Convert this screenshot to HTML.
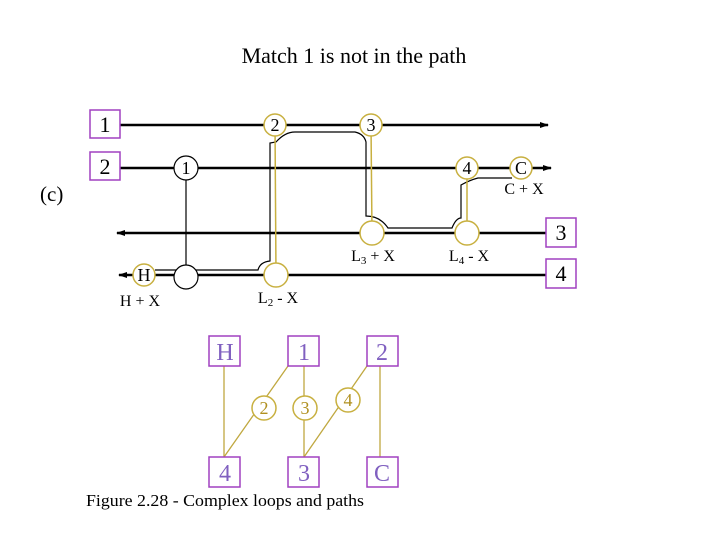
<!DOCTYPE html>
<html><head><style>body{margin:0;background:#fff}svg{display:block}</style></head><body>
<svg width="720" height="540" xmlns="http://www.w3.org/2000/svg" font-family="Liberation Serif, serif">
<defs><marker id="a" markerUnits="userSpaceOnUse" markerWidth="9" markerHeight="7" refX="8" refY="3.5" orient="auto"><path d="M0,0.5L9,3.5L0,6.5z" fill="#000"/></marker></defs>
<text x="354" y="63" font-size="22" text-anchor="middle">Match 1 is not in the path</text>
<text x="40" y="201" font-size="21">(c)</text>
<g stroke="#000" stroke-width="2.5" fill="none">
<line x1="120" y1="125" x2="548" y2="125" marker-end="url(#a)"/>
<line x1="120" y1="168" x2="551" y2="168" marker-end="url(#a)"/>
<line x1="546" y1="233" x2="117" y2="233" marker-end="url(#a)"/>
<line x1="546" y1="275" x2="119" y2="275" marker-end="url(#a)"/>
</g>
<g stroke="#000" stroke-width="1.2" fill="none">
<line x1="186" y1="168" x2="186" y2="277"/>
<path d="M155,270 L258,270 Q260,262 270,261 L270,143 L276,142 Q285,132 295,132 L355,132 Q364,134 366,142 L366,216 Q380,216 388,228 L452,228 Q456,218 461,218 L461,185 Q470,180 478,178 L512,178"/>
</g>
<g stroke="#c8b040" stroke-width="1.5">
<line x1="275" y1="125" x2="276" y2="275"/>
<line x1="371" y1="125" x2="372" y2="233"/>
<line x1="467" y1="168" x2="467" y2="233"/>
</g>
<g fill="#fff" stroke="#c8b040" stroke-width="1.5">
<circle cx="275" cy="125" r="11"/><circle cx="371" cy="125" r="11"/>
<circle cx="467" cy="168" r="11"/><circle cx="521" cy="168" r="11"/>
<circle cx="372" cy="233" r="12"/><circle cx="467" cy="233" r="12"/>
<circle cx="144" cy="275" r="11"/><circle cx="276" cy="275" r="12"/>
</g>
<g fill="#fff" stroke="#000" stroke-width="1.2">
<circle cx="186" cy="168" r="12"/><circle cx="186" cy="277" r="12"/>
</g>
<g font-size="18" text-anchor="middle">
<text x="275" y="131">2</text><text x="371" y="131">3</text><text x="467" y="174">4</text>
<text x="521" y="174">C</text><text x="186" y="174">1</text><text x="144" y="281">H</text>
</g>
<g font-size="16" text-anchor="middle">
<text x="524" y="194">C + X</text><text x="373" y="261">L<tspan font-size="11" dy="3">3</tspan><tspan dy="-3"> + X</tspan></text>
<text x="469" y="261">L<tspan font-size="11" dy="3">4</tspan><tspan dy="-3"> - X</tspan></text>
<text x="278" y="303">L<tspan font-size="11" dy="3">2</tspan><tspan dy="-3"> - X</tspan></text>
<text x="140" y="306">H + X</text>
</g>
<g fill="#fff" stroke="#a040c0" stroke-width="1.5">
<rect x="90" y="110" width="30" height="28"/><rect x="90" y="152" width="30" height="28"/>
<rect x="546" y="218" width="30" height="29"/><rect x="546" y="259" width="30" height="29"/>
</g>
<g font-size="22" text-anchor="middle">
<text x="105" y="132">1</text><text x="105" y="174">2</text><text x="561" y="240">3</text><text x="561" y="281">4</text>
</g>
<g stroke="#c0a840" stroke-width="1.3">
<line x1="224" y1="366" x2="224" y2="457"/>
<line x1="288" y1="366" x2="224" y2="457"/>
<line x1="304" y1="366" x2="304" y2="457"/>
<line x1="367" y1="366" x2="304" y2="457"/>
<line x1="380" y1="366" x2="380" y2="457"/>
</g>
<g fill="#fff" stroke="#c8b040" stroke-width="1.5">
<circle cx="264" cy="408" r="12"/><circle cx="305" cy="408" r="12"/><circle cx="348" cy="400" r="12"/>
</g>
<g font-size="18" text-anchor="middle" fill="#b09020">
<text x="264" y="414">2</text><text x="305" y="414">3</text><text x="348" y="406">4</text>
</g>
<g fill="#fff" stroke="#a040c0" stroke-width="1.5">
<rect x="209" y="336" width="31" height="30"/><rect x="288" y="336" width="31" height="30"/><rect x="367" y="336" width="31" height="30"/>
<rect x="209" y="457" width="31" height="30"/><rect x="288" y="457" width="31" height="30"/><rect x="367" y="457" width="31" height="30"/>
</g>
<g font-size="24" text-anchor="middle" fill="#8060c0">
<text x="225" y="360">H</text><text x="304" y="360">1</text><text x="382" y="360">2</text>
<text x="225" y="481">4</text><text x="304" y="481">3</text><text x="382" y="481">C</text>
</g>
<text x="86" y="506" font-size="17" textLength="278" lengthAdjust="spacingAndGlyphs">Figure 2.28 - Complex loops and paths</text>
</svg>
</body></html>
